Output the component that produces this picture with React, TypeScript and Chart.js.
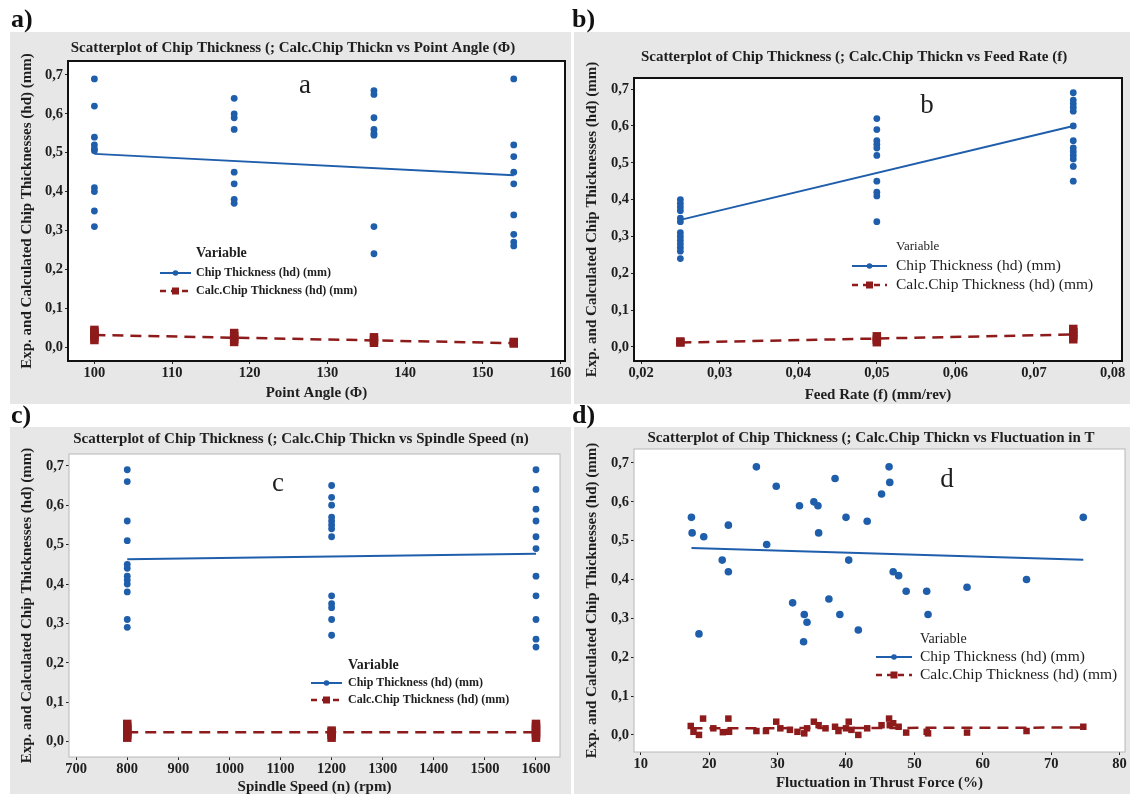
import React, { useEffect, useRef } from "react";
import { Chart, registerables } from "chart.js";
Chart.register(...registerables);

const FONT = "'Liberation Serif', 'Times New Roman', serif";
const BLUE = "#1f5eab";
const RED = "#8e1b1b";
const PANEL_BG = "#e7e7e7";
const TEXT = "#1e1e1e";

// ---------- shared
const thicknessTicks = [0, 0.1, 0.2, 0.3, 0.4, 0.5, 0.6, 0.7];

// ---------- a) Point angle
const angleLevels = [100, 118, 136, 154];
const angleChip100 = [0.69, 0.62, 0.54, 0.52, 0.51, 0.505, 0.41, 0.4, 0.35, 0.31];
const angleChip118 = [0.64, 0.6, 0.59, 0.56, 0.45, 0.42, 0.38, 0.37];
const angleChip136 = [0.66, 0.65, 0.59, 0.56, 0.55, 0.545, 0.31, 0.24];
const angleChip154 = [0.69, 0.52, 0.49, 0.45, 0.42, 0.34, 0.29, 0.27, 0.26];
const angleCalc100 = [0.018, 0.025, 0.032, 0.039, 0.044];
const angleCalc118 = [0.013, 0.02, 0.028, 0.036];
const angleCalc136 = [0.011, 0.018, 0.025];
const angleCalc154 = [0.009, 0.013];
const angleFitChip = [0.497, 0.442];
const angleFitCalc = [0.031, 0.01];
const angleTicks = [100, 110, 120, 130, 140, 150, 160];

// ---------- b) Feed rate
const feedLevels = [0.025, 0.05, 0.075];
const feedChip025 = [0.4, 0.39, 0.38, 0.37, 0.35, 0.34, 0.31, 0.3, 0.29, 0.28, 0.27, 0.26, 0.24];
const feedChip050 = [0.62, 0.59, 0.56, 0.55, 0.54, 0.52, 0.45, 0.42, 0.41, 0.34];
const feedChip075 = [0.69, 0.67, 0.66, 0.65, 0.64, 0.6, 0.56, 0.54, 0.53, 0.52, 0.51, 0.49, 0.45];
const feedCalc025 = [0.012, 0.015];
const feedCalc050 = [0.013, 0.02, 0.029];
const feedCalc075 = [0.021, 0.03, 0.04, 0.049];
const feedFitChip = [0.345, 0.6];
const feedFitCalc = [0.012, 0.034];
const feedTicks = [0.02, 0.03, 0.04, 0.05, 0.06, 0.07, 0.08];

// ---------- c) Spindle speed
const speedLevels = [800, 1200, 1600];
const speedChip800 = [0.69, 0.66, 0.56, 0.51, 0.45, 0.44, 0.42, 0.41, 0.4, 0.38, 0.31, 0.29];
const speedChip1200 = [0.65, 0.62, 0.6, 0.57, 0.56, 0.55, 0.54, 0.52, 0.37, 0.35, 0.34, 0.31, 0.27];
const speedChip1600 = [0.69, 0.64, 0.59, 0.56, 0.52, 0.49, 0.42, 0.37, 0.31, 0.26, 0.24];
const speedCalc800 = [0.01, 0.017, 0.024, 0.031, 0.038, 0.045];
const speedCalc1200 = [0.01, 0.017, 0.024, 0.028];
const speedCalc1600 = [0.01, 0.017, 0.024, 0.031, 0.038, 0.045];
const speedFitChip = [0.463, 0.477];
const speedFitCalc = [0.024, 0.024];
const speedTicks = [700, 800, 900, 1000, 1100, 1200, 1300, 1400, 1500, 1600];

// ---------- d) Fluctuation in thrust force
const fluctChipX = [17.4, 17.5, 19.2, 21.9, 22.8, 22.8, 18.5, 26.9, 28.4, 29.8, 32.2, 33.2, 33.9, 34.3, 33.8, 35.3, 35.9, 36.0, 37.5, 38.4, 39.1, 40.0, 40.4, 41.8, 43.1, 45.2, 46.3, 46.4, 46.9, 47.7, 48.8, 51.8, 52.0, 57.7, 66.4, 74.7];
const fluctChipY = [0.56, 0.52, 0.51, 0.45, 0.54, 0.42, 0.26, 0.69, 0.49, 0.64, 0.34, 0.59, 0.31, 0.29, 0.24, 0.6, 0.59, 0.52, 0.35, 0.66, 0.31, 0.56, 0.45, 0.27, 0.55, 0.62, 0.69, 0.65, 0.42, 0.41, 0.37, 0.37, 0.31, 0.38, 0.4, 0.56];
const fluctCalcX = [17.3, 17.7, 18.5, 19.1, 20.6, 22.0, 22.8, 22.9, 26.9, 28.3, 29.8, 30.4, 31.8, 32.9, 33.9, 34.3, 35.3, 36.0, 37.0, 38.4, 38.9, 40.0, 40.4, 40.8, 41.8, 43.1, 45.2, 46.3, 46.4, 46.9, 47.7, 48.8, 51.8, 52.0, 57.7, 66.4, 74.7];
const fluctCalcY = [0.023, 0.008, 0.0, 0.042, 0.017, 0.007, 0.042, 0.008, 0.01, 0.01, 0.034, 0.017, 0.013, 0.008, 0.004, 0.017, 0.034, 0.025, 0.017, 0.021, 0.01, 0.017, 0.034, 0.013, 0.0, 0.017, 0.025, 0.042, 0.025, 0.03, 0.021, 0.006, 0.008, 0.004, 0.006, 0.01, 0.021];
const fluctFitX = [17.4, 74.7];
const fluctFitChip = [0.481, 0.451];
const fluctFitCalc = [0.017, 0.019];
const fluctTicks = [10, 20, 30, 40, 50, 60, 70, 80];

const Y_TITLE = "Exp. and Calculated Chip Thicknesses (hd) (mm)";
const LEG_CHIP = "Chip Thickness (hd) (mm)";
const LEG_CALC = "Calc.Chip Thickness (hd) (mm)";

type Pt = { x: number; y: number };
const groups = (levels: number[], vals: number[][]): Pt[] =>
  levels.flatMap((x, i) => vals[i].map((y) => ({ x, y })));
const pairs = (xs: number[], ys: number[]): Pt[] => xs.map((x, i) => ({ x, y: ys[i] }));

const comma = (d: number) => (v: number) => Number(v).toFixed(d).replace(".", ",");

const panels = [
  {
    key: "a",
    label: "a)",
    labelPos: [11, 6],
    panel: { x: 10, y: 32, w: 561, h: 372 },
    area: { l: 68, t: 61, r: 567, b: 361 },
    yTitleX: 27,
    xTitleY: 393,
    title: "Scatterplot of Chip Thickness (; Calc.Chip Thickn vs Point Angle (\u03A6)",
    titlePos: [293, 48],
    letter: "a",
    letterPos: [305, 86],
    legend: { lx: 160, len: 31, tx: 196, vy: 253, y1: 273, y2: 291, vFont: "bold 14px", iFont: "bold 12px" },
    boxColor: "#111",
    boxWidth: 2,
    x: { min: 96.6, max: 160.6, ticks: angleTicks, fmt: (v: number) => String(v), title: "Point Angle (\u03A6)" },
    y: { min: -0.036, max: 0.736 },
    chip: groups(angleLevels, [angleChip100, angleChip118, angleChip136, angleChip154]),
    calc: groups(angleLevels, [angleCalc100, angleCalc118, angleCalc136, angleCalc154]),
    fitChip: pairs([angleLevels[0], angleLevels[3]], angleFitChip),
    fitCalc: pairs([angleLevels[0], angleLevels[3]], angleFitCalc),
    chipR: 3.4,
    calcR: 6,
  },
  {
    key: "b",
    label: "b)",
    labelPos: [572, 6],
    panel: { x: 574, y: 32, w: 556, h: 372 },
    area: { l: 634, t: 78, r: 1122, b: 361 },
    yTitleX: 592,
    xTitleY: 395,
    title: "Scatterplot of Chip Thickness (; Calc.Chip Thickn vs Feed Rate (f)",
    titlePos: [854, 57],
    letter: "b",
    letterPos: [927, 106],
    legend: { lx: 852, len: 35, tx: 896, vy: 247, y1: 266, y2: 285, vFont: "13px", iFont: "15.5px" },
    boxColor: "#111",
    boxWidth: 2,
    x: { min: 0.0191, max: 0.0812, ticks: feedTicks, fmt: comma(2), title: "Feed Rate (f) (mm/rev)" },
    y: { min: -0.038, max: 0.73 },
    chip: groups(feedLevels, [feedChip025, feedChip050, feedChip075]),
    calc: groups(feedLevels, [feedCalc025, feedCalc050, feedCalc075]),
    fitChip: pairs([feedLevels[0], feedLevels[2]], feedFitChip),
    fitCalc: pairs([feedLevels[0], feedLevels[2]], feedFitCalc),
    chipR: 3.4,
    calcR: 6,
  },
  {
    key: "c",
    label: "c)",
    labelPos: [11, 402],
    panel: { x: 10, y: 427, w: 561, h: 367 },
    area: { l: 69, t: 454, r: 560, b: 757 },
    yTitleX: 27,
    xTitleY: 787,
    title: "Scatterplot of Chip Thickness (; Calc.Chip Thickn vs Spindle Speed (n)",
    titlePos: [301, 439],
    letter: "c",
    letterPos: [278, 484],
    legend: { lx: 311, len: 31, tx: 348, vy: 665, y1: 683, y2: 700, vFont: "bold 14px", iFont: "bold 12px" },
    boxColor: "#b8b8b8",
    boxWidth: 1,
    x: { min: 686, max: 1647, ticks: speedTicks, fmt: (v: number) => String(v), title: "Spindle Speed (n) (rpm)" },
    y: { min: -0.039, max: 0.73 },
    chip: groups(speedLevels, [speedChip800, speedChip1200, speedChip1600]),
    calc: groups(speedLevels, [speedCalc800, speedCalc1200, speedCalc1600]),
    fitChip: pairs([speedLevels[0], speedLevels[2]], speedFitChip),
    fitCalc: pairs([speedLevels[0], speedLevels[2]], speedFitCalc),
    chipR: 3.4,
    calcR: 6,
  },
  {
    key: "d",
    label: "d)",
    labelPos: [572, 402],
    panel: { x: 574, y: 427, w: 556, h: 367 },
    area: { l: 634, t: 449, r: 1125, b: 752 },
    yTitleX: 592,
    xTitleY: 783,
    title: "Scatterplot of Chip Thickness (; Calc.Chip Thickn vs Fluctuation in T",
    titlePos: [871, 438],
    letter: "d",
    letterPos: [947, 480],
    legend: { lx: 876, len: 36, tx: 920, vy: 639, y1: 657, y2: 675, vFont: "14px", iFont: "15.5px" },
    boxColor: "#b8b8b8",
    boxWidth: 1,
    x: { min: 9.0, max: 80.8, ticks: fluctTicks, fmt: (v: number) => String(v), title: "Fluctuation in Thrust Force (%)" },
    y: { min: -0.044, max: 0.736 },
    chip: pairs(fluctChipX, fluctChipY),
    calc: pairs(fluctCalcX, fluctCalcY),
    fitChip: pairs(fluctFitX, fluctFitChip),
    fitCalc: pairs(fluctFitX, fluctFitCalc),
    chipR: 3.8,
    calcR: 4.6,
  },
];

type PanelCfg = (typeof panels)[number];

const AXIS_TITLE_SIZE = 15;
const TICK_SIZE = 14.5;
const TITLE_SIZE = 15;

function makeChart(canvas: HTMLCanvasElement, cfg: PanelCfg) {
  const lh = AXIS_TITLE_SIZE * 1.2;
  const { panel, area } = cfg;
  const L = area.l - panel.x;
  const T = area.t - panel.y;
  const R = panel.w - (area.r - panel.x);
  const B = panel.h - (area.b - panel.y);
  const padLeft = cfg.yTitleX - panel.x - lh / 2;
  const yW = L - padLeft;
  const xH = cfg.xTitleY - area.b + lh / 2;
  const padBottom = B - xH;

  const deco = {
    id: "deco_" + cfg.key,
    beforeDraw(chart: any) {
      const { ctx, chartArea: a } = chart;
      ctx.save();
      ctx.fillStyle = PANEL_BG;
      ctx.fillRect(0, 0, chart.width, chart.height);
      ctx.fillStyle = "#ffffff";
      ctx.fillRect(a.left, a.top, a.right - a.left, a.bottom - a.top);
      ctx.restore();
    },
    afterDraw(chart: any) {
      const { ctx, chartArea: a } = chart;
      const ox = panel.x;
      const oy = panel.y;
      ctx.save();
      ctx.strokeStyle = cfg.boxColor;
      ctx.lineWidth = cfg.boxWidth;
      ctx.strokeRect(a.left, a.top, a.right - a.left, a.bottom - a.top);

      ctx.fillStyle = TEXT;
      ctx.textAlign = "center";
      ctx.textBaseline = "middle";
      ctx.font = `bold ${TITLE_SIZE}px ${FONT}`;
      ctx.fillText(cfg.title, cfg.titlePos[0] - ox, cfg.titlePos[1] - oy);

      ctx.font = `27px ${FONT}`;
      ctx.fillText(cfg.letter, cfg.letterPos[0] - ox, cfg.letterPos[1] - oy);

      const lg = cfg.legend;
      ctx.textAlign = "left";
      ctx.font = `${lg.vFont} ${FONT}`;
      ctx.fillText("Variable", lg.tx - ox, lg.vy - oy);
      ctx.font = `${lg.iFont} ${FONT}`;
      const x0 = lg.lx - ox;
      const x1 = x0 + lg.len;
      const xm = (x0 + x1) / 2;
      // blue item
      ctx.strokeStyle = BLUE;
      ctx.lineWidth = 2;
      ctx.setLineDash([]);
      ctx.beginPath();
      ctx.moveTo(x0, lg.y1 - oy);
      ctx.lineTo(x1, lg.y1 - oy);
      ctx.stroke();
      ctx.fillStyle = BLUE;
      ctx.beginPath();
      ctx.arc(xm, lg.y1 - oy, 2.8, 0, Math.PI * 2);
      ctx.fill();
      ctx.fillStyle = TEXT;
      ctx.fillText(LEG_CHIP, lg.tx - ox, lg.y1 - oy);
      // red item
      ctx.strokeStyle = RED;
      ctx.lineWidth = 2.5;
      ctx.setLineDash([6, 5]);
      ctx.beginPath();
      ctx.moveTo(x0, lg.y2 - oy);
      ctx.lineTo(x1, lg.y2 - oy);
      ctx.stroke();
      ctx.setLineDash([]);
      ctx.fillStyle = RED;
      ctx.fillRect(xm - 3.5, lg.y2 - oy - 3.5, 7, 7);
      ctx.fillStyle = TEXT;
      ctx.fillText(LEG_CALC, lg.tx - ox, lg.y2 - oy);
      ctx.restore();
    },
  };

  const tickFont = { family: FONT, size: TICK_SIZE, weight: "bold" as const };
  const titleFont = { family: FONT, size: AXIS_TITLE_SIZE, weight: "bold" as const };

  return new Chart(canvas, {
    type: "scatter",
    data: {
      datasets: [
        {
          type: "scatter",
          label: LEG_CALC,
          data: cfg.calc,
          pointStyle: "rect",
          pointRadius: cfg.calcR,
          backgroundColor: RED,
          borderColor: RED,
          borderWidth: 0,
          order: 3,
        },
        {
          type: "line",
          label: "calc fit",
          data: cfg.fitCalc,
          borderColor: RED,
          borderWidth: 2.5,
          borderDash: [11, 7],
          pointRadius: 0,
          fill: false,
          order: 2,
        },
        {
          type: "scatter",
          label: LEG_CHIP,
          data: cfg.chip,
          pointStyle: "circle",
          pointRadius: cfg.chipR,
          backgroundColor: BLUE,
          borderColor: BLUE,
          borderWidth: 0,
          order: 1,
        },
        {
          type: "line",
          label: "chip fit",
          data: cfg.fitChip,
          borderColor: BLUE,
          borderWidth: 2,
          pointRadius: 0,
          fill: false,
          order: 0,
        },
      ] as any,
    },
    options: {
      responsive: false,
      animation: false,
      devicePixelRatio: 1,
      layout: { padding: { left: padLeft, top: T, right: R, bottom: padBottom } },
      plugins: {
        legend: { display: false },
        tooltip: { enabled: false },
        title: { display: false },
      },
      scales: {
        x: {
          type: "linear",
          min: cfg.x.min,
          max: cfg.x.max,
          afterBuildTicks: (s: any) => {
            s.ticks = cfg.x.ticks.map((v) => ({ value: v }));
          },
          afterFit: (s: any) => {
            s.height = xH;
            s.paddingLeft = 0;
            s.paddingRight = 0;
          },
          ticks: {
            callback: (v: any) => cfg.x.fmt(Number(v)),
            font: tickFont,
            color: TEXT,
            padding: 1,
            maxRotation: 0,
            autoSkip: false,
          },
          grid: { drawOnChartArea: false, drawTicks: true, tickLength: 3, color: "#222", tickWidth: 1 },
          border: { display: false },
          title: { display: true, text: cfg.x.title, font: titleFont, color: TEXT, padding: 0 },
        },
        y: {
          type: "linear",
          min: cfg.y.min,
          max: cfg.y.max,
          afterBuildTicks: (s: any) => {
            s.ticks = thicknessTicks.map((v) => ({ value: v }));
          },
          afterFit: (s: any) => {
            s.width = yW;
            s.paddingTop = 0;
            s.paddingBottom = 0;
          },
          ticks: {
            callback: (v: any) => comma(1)(Number(v)),
            font: tickFont,
            color: TEXT,
            padding: 2,
            autoSkip: false,
          },
          grid: { drawOnChartArea: false, drawTicks: true, tickLength: 3, color: "#222", tickWidth: 1 },
          border: { display: false },
          title: { display: true, text: Y_TITLE, font: titleFont, color: TEXT, padding: 0 },
        },
      },
    } as any,
    plugins: [deco],
  });
}

function Panel({ cfg }: { cfg: PanelCfg }) {
  const ref = useRef<HTMLCanvasElement>(null);
  useEffect(() => {
    const chart = makeChart(ref.current as HTMLCanvasElement, cfg);
    return () => chart.destroy();
  }, [cfg]);
  return (
    <>
      <canvas
        ref={ref}
        width={cfg.panel.w}
        height={cfg.panel.h}
        style={{
          position: "absolute",
          left: cfg.panel.x,
          top: cfg.panel.y,
          width: cfg.panel.w,
          height: cfg.panel.h,
        }}
      />
      <div
        style={{
          position: "absolute",
          left: cfg.labelPos[0],
          top: cfg.labelPos[1],
          font: `bold 26px ${FONT}`,
          lineHeight: "26px",
          color: "#111",
        }}
      >
        {cfg.label}
      </div>
    </>
  );
}

export default function App() {
  return (
    <div
      style={{
        position: "absolute",
        left: 0,
        top: 0,
        width: 1134,
        height: 794,
        background: "#ffffff",
        overflow: "hidden",
      }}
    >
      {panels.map((p) => (
        <Panel key={p.key} cfg={p} />
      ))}
    </div>
  );
}
